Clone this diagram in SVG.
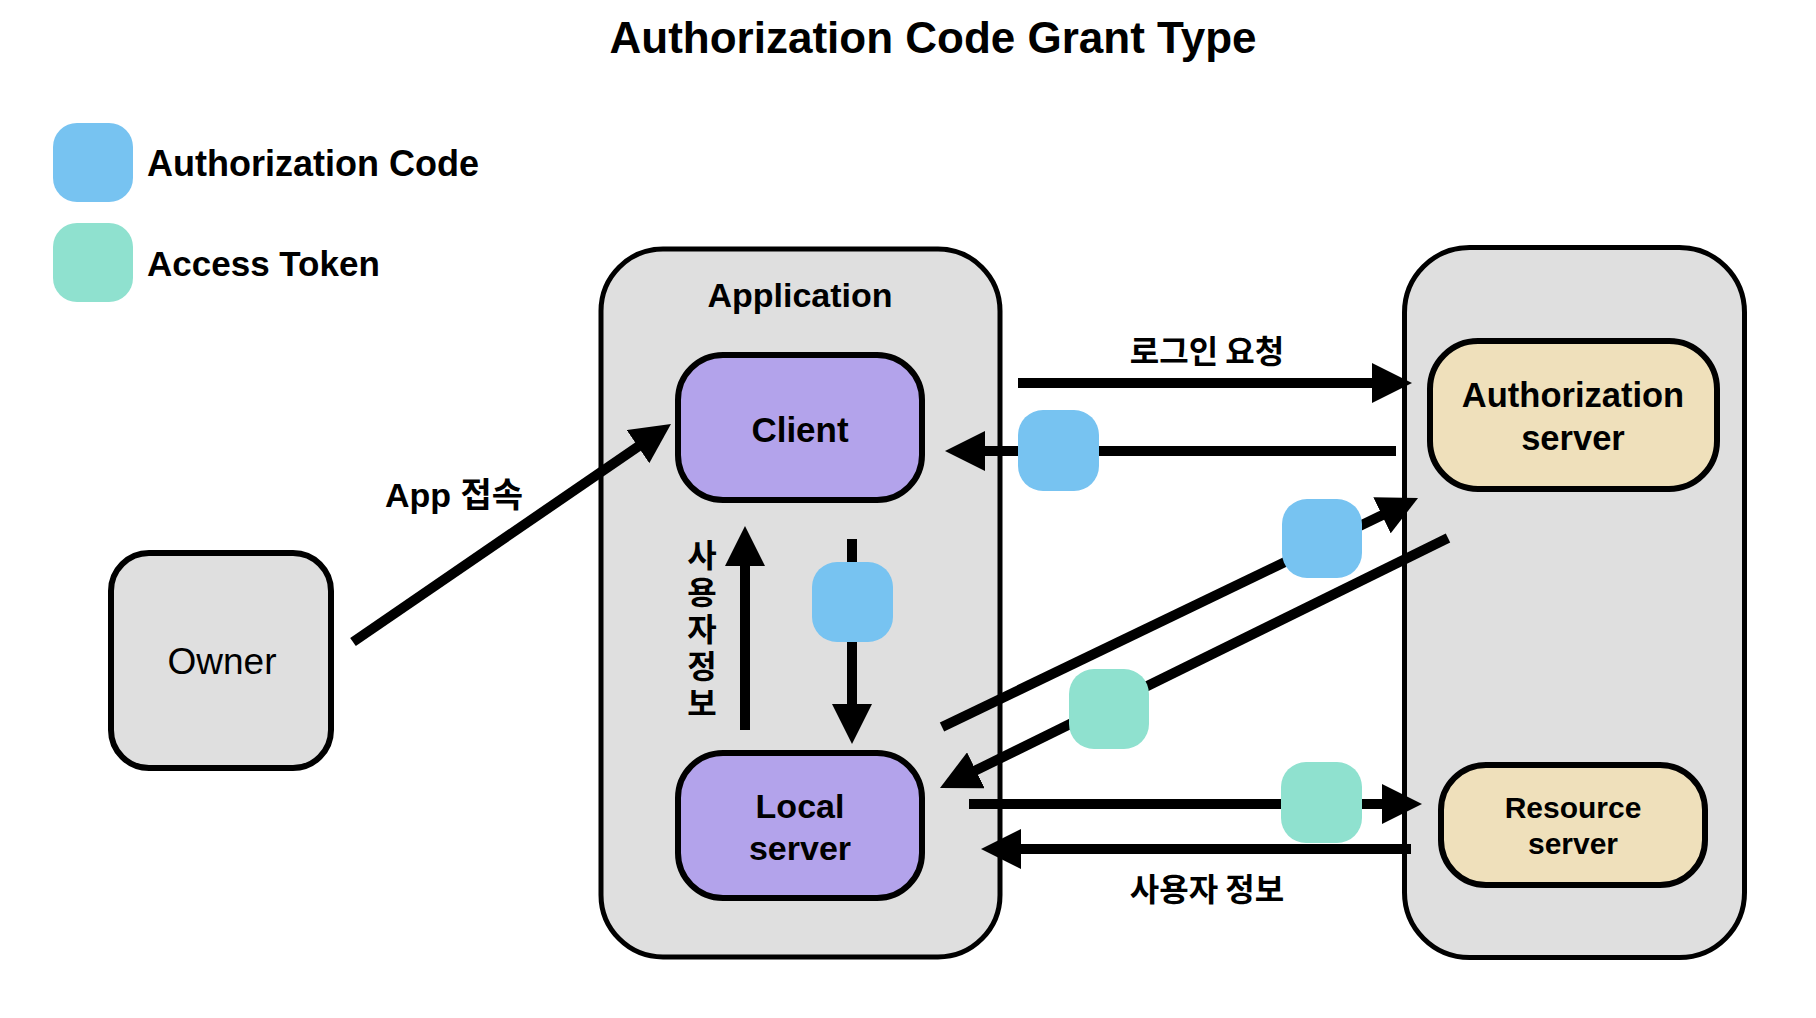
<svg xmlns="http://www.w3.org/2000/svg" width="1816" height="1018" viewBox="0 0 1816 1018">
<defs>
<style>
.t{font-family:"Liberation Sans","Noto Sans CJK KR",Arial,sans-serif;fill:#000}
.b{font-weight:bold}
.c{text-anchor:middle}
.ko{font-family:"Noto Sans CJK KR","Liberation Sans",sans-serif;font-weight:bold;fill:#000}
.box{stroke:#000;stroke-width:6}
.cont{fill:#dfdfdf;stroke:#000;stroke-width:5}
.gray{fill:#dfdfdf}
.purple{fill:#b3a3eb}
.wheat{fill:#efe0bb}
.code{fill:#77c3f1}
.token{fill:#8fe1cf}
.conn{stroke:#000;stroke-width:10;fill:none;marker-end:url(#ah)}
</style>
<marker id="ah" markerUnits="userSpaceOnUse" markerWidth="40" markerHeight="40" refX="4" refY="20" orient="auto" viewBox="0 0 40 40">
<path d="M0,0 L40,20 L0,40 Z" fill="#000"/>
</marker>
</defs>
<rect width="1816" height="1018" fill="#fff"/>

<text class="t b c" x="933" y="53" font-size="44">Authorization Code Grant Type</text>

<g id="legend">
<rect class="code" x="53" y="123" width="80" height="79" rx="24"/>
<text class="t b" x="147" y="176" font-size="36">Authorization Code</text>
<rect class="token" x="53" y="223" width="80" height="79" rx="24"/>
<text class="t b" x="147" y="276" font-size="35">Access Token</text>
</g>

<g id="application">
<rect class="cont" x="601" y="249" width="399" height="708" rx="62"/>
<text class="t b c" x="800" y="307" font-size="34">Application</text>
</g>

<g id="server-side">
<rect class="cont" x="1404.5" y="247.5" width="340" height="710" rx="65"/>
</g>

<g id="owner">
<rect class="box gray" x="111" y="553" width="220" height="215" rx="38"/>
<text class="t c" x="222" y="674" font-size="37">Owner</text>
</g>

<g id="client">
<rect class="box purple" x="678" y="355" width="244" height="145" rx="45"/>
<text class="t b c" x="800" y="442" font-size="35">Client</text>
</g>

<g id="local-server">
<rect class="box purple" x="678" y="753" width="244" height="145" rx="45"/>
<text class="t b c" x="800" y="818" font-size="34">Local</text>
<text class="t b c" x="800" y="860" font-size="34">server</text>
</g>

<g id="authorization-server">
<rect class="box wheat" x="1430" y="341" width="287" height="148" rx="48"/>
<text class="t b c" x="1573" y="407" font-size="34.5">Authorization</text>
<text class="t b c" x="1573" y="450" font-size="34.5">server</text>
</g>

<g id="resource-server">
<rect class="box wheat" x="1441" y="765" width="264" height="120" rx="45"/>
<text class="t b c" x="1573" y="818" font-size="30">Resource</text>
<text class="t b c" x="1573" y="854" font-size="30">server</text>
</g>

<g id="connectors">
<line class="conn" x1="353" y1="642" x2="641.3" y2="444.4"/>
<line class="conn" x1="1018" y1="383" x2="1376" y2="383"/>
<line class="conn" x1="1396" y1="451" x2="981" y2="451"/>
<line class="conn" x1="852" y1="539" x2="852" y2="708"/>
<line class="conn" x1="745" y1="730" x2="745" y2="562"/>
<line class="conn" x1="942" y1="727" x2="1385.6" y2="513.6"/>
<line class="conn" x1="1448" y1="538" x2="972.3" y2="772.1"/>
<line class="conn" x1="969" y1="804" x2="1386" y2="804"/>
<line class="conn" x1="1411" y1="849" x2="1017" y2="849"/>
<g id="tokens">
<rect class="code" x="1018" y="410" width="81" height="81" rx="25"/>
<rect class="code" x="812" y="562" width="81" height="80" rx="25"/>
<rect class="code" x="1282" y="499" width="80" height="79" rx="25"/>
<rect class="token" x="1069" y="669" width="80" height="80" rx="25"/>
<rect class="token" x="1281" y="762" width="81" height="81" rx="25"/>
</g>
<text class="t b" x="385" y="507" font-size="34">App 접속</text>
<text class="ko c" x="1207" y="363" font-size="32">로그인 요청</text>
<text class="ko c" x="1207" y="901" font-size="32">사용자 정보</text>
<text class="ko" x="702" y="539" font-size="32" writing-mode="tb" style="writing-mode:vertical-rl;text-orientation:upright" letter-spacing="5">사용자정보</text>
</g>
</svg>
